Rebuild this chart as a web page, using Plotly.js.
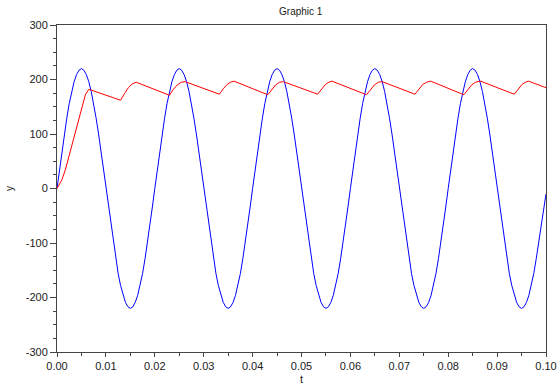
<!DOCTYPE html>
<html>
<head>
<meta charset="utf-8">
<script src="https://cdn.plot.ly/plotly-3.0.1.min.js"></script>
<style>html,body{margin:0;padding:0;background:#fff;}#chart{width:558px;height:384px;}</style>
</head>
<body>
<div id="chart"></div>
<script>
// Blue series: source voltage, sampled every 0.0005 s
const blueT0 = 0;
const blueStep = 0.0005;
const blueY = [
0,34,68,100,129,156,178,196,209,217,220,217,209,196,178,156,129,100,68,34,
0,-34,-68,-100,-129,-156,-178,-196,-209,-217,-220,-217,-209,-196,-178,-156,-129,-100,-68,-34,
0,34,68,100,129,156,178,196,209,217,220,217,209,196,178,156,129,100,68,34,
0,-34,-68,-100,-129,-156,-178,-196,-209,-217,-220,-217,-209,-196,-178,-156,-129,-100,-68,-34,
0,34,68,100,129,156,178,196,209,217,220,217,209,196,178,156,129,100,68,34,
0,-34,-68,-100,-129,-156,-178,-196,-209,-217,-220,-217,-209,-196,-178,-156,-129,-100,-68,-34,
0,34,68,100,129,156,178,196,209,217,220,217,209,196,178,156,129,100,68,34,
0,-34,-68,-100,-129,-156,-178,-196,-209,-217,-220,-217,-209,-196,-178,-156,-129,-100,-68,-34,
0,34,68,100,129,156,178,196,209,217,220,217,209,196,178,156,129,100,68,34,
0,-34,-68,-100,-129,-156,-178,-196,-209,-217,-220,-217,-209,-196,-178,-156,-129,-100,-68,-34,
-10
];
const blueT = blueY.map((_, i) => +(blueT0 + i * blueStep).toFixed(4));

// Red series: read point by point
const redT = [0,0.001,0.0017,0.0024,0.0034,0.0041,0.0051,0.0058,0.0065,
  0.0130,0.0138,0.0146,0.0154,0.0162,
  0.0230,0.0238,0.0246,0.0254,0.0262,
  0.0332,0.0340,0.0348,0.0355,0.0362,
  0.0431,0.0439,0.0447,0.0455,0.0463,
  0.0533,0.0541,0.0549,0.0556,0.0562,
  0.0633,0.0641,0.0649,0.0657,0.0665,
  0.0732,0.0740,0.0748,0.0756,0.0764,
  0.0832,0.0840,0.0848,0.0856,0.0866,
  0.0935,0.0943,0.0951,0.0958,0.0964,
  0.1000];
const redY = [0,16,34,58,89,117,150,172,182,
  162,174,185,192,195,
  171,182,190,195,196,
  173,183,191,195,197,
  172,182,190,195,196,
  173,183,191,195,197,
  172,182,190,195,196,
  173,183,191,195,197,
  172,182,190,195,197,
  173,183,191,195,197,
  185];

const xTicks = [0,0.01,0.02,0.03,0.04,0.05,0.06,0.07,0.08,0.09,0.10];
const xTickText = ["0.00","0.01","0.02","0.03","0.04","0.05","0.06","0.07","0.08","0.09","0.10"];
const yTicks = [-300,-200,-100,0,100,200,300];
const yTickText = ["-300","-200","-100","0","100","200","300"];

const fam = "Liberation Sans, Arial, sans-serif";
const font = {family: fam, size: 11, color: "#222"};

const data = [
  {x: blueT, y: blueY, type: "scatter", mode: "lines", line: {color: "#0000ff", width: 1}, showlegend: false, hoverinfo: "skip"},
  {x: redT, y: redY, type: "scatter", mode: "lines", line: {color: "#ff0000", width: 1}, showlegend: false, hoverinfo: "skip"}
];

const axisCommon = {
  showgrid: false, zeroline: false, showline: true, mirror: true,
  linecolor: "#444", linewidth: 1, ticks: "outside", tickcolor: "#444",
  tickwidth: 1, tickfont: font
};

const layout = {
  width: 558, height: 384,
  margin: {l: 57, r: 12, t: 25, b: 32},
  paper_bgcolor: "#fff", plot_bgcolor: "#fff",
  title: {text: "Graphic 1", font: {family: fam, size: 10, color: "#222"}, x: 0.539, xanchor: "center", y: 0.97, yanchor: "middle"},
  xaxis: Object.assign({}, axisCommon, {
    range: [0, 0.1], tickmode: "array", tickvals: xTicks, ticktext: xTickText, ticklen: 4,
    minor: {dtick: 0.005, tick0: 0, ticks: "outside", ticklen: 3, tickcolor: "#444"}
  }),
  yaxis: Object.assign({}, axisCommon, {
    range: [-300, 300], tickmode: "array", tickvals: yTicks, ticktext: yTickText, ticklen: 6,
    minor: {dtick: 25, tick0: 0, ticks: "outside", ticklen: 3, tickcolor: "#444"},
    title: {text: "y", font: {family: fam, size: 10, color: "#222"}, standoff: 10}
  }),
  annotations: [
    {text: "t", xref: "paper", yref: "paper", x: 0.5, y: -0.083, xanchor: "center", yanchor: "middle",
     showarrow: false, font: {family: fam, size: 11, color: "#222"}}
  ]
};

Plotly.newPlot("chart", data, layout, {staticPlot: true, displayModeBar: false});
</script>
</body>
</html>
